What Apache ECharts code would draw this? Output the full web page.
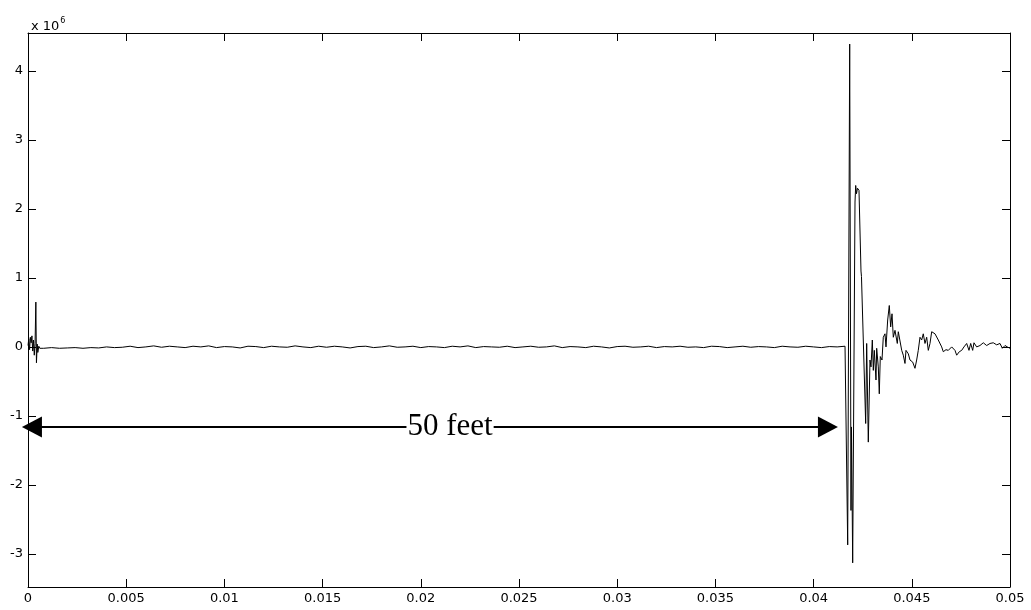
<!DOCTYPE html>
<html>
<head>
<meta charset="utf-8">
<title>waveform</title>
<script src="https://cdn.jsdelivr.net/npm/echarts@6/dist/echarts.min.js"></script>
<style>
html, body {margin: 0; padding: 0; background: #fff;}
#chartBox {width: 1031px; height: 610px;}
</style>
</head>
<body>
<div id="chartBox"></div>
<script>
// time in seconds, amplitude in units of 1e6
const onsetTime = [0, 0.00004, 0.00008, 0.00012, 0.00016, 0.0002, 0.00024, 0.00028, 0.00032, 0.00036, 0.0004, 0.00043, 0.00047, 0.0005, 0.00055, 0.0006];
const onsetValue = [0.02, 0.12, -0.04, 0.14, 0.06, 0.16, -0.06, 0.1, -0.12, 0.05, 0.65, -0.23, 0.04, -0.08, 0.01, -0.02];

// quiet stretch, sampled every quietStep from quietStart
const quietStart = 0.0008;
const quietStep = 0.0004;
const quietValue = [
    -0.02, -0.01, -0.02, -0.015, -0.01, -0.02, -0.01, -0.015, 0.0, -0.01,
    -0.005, 0.01, -0.01, 0.0, 0.015, -0.005, 0.01, 0.0, -0.01, 0.01,
    0.0, 0.015, -0.01, 0.005, 0.0, -0.015, 0.01, 0.005, -0.01, 0.01,
    0.0, -0.005, 0.015, 0.0, -0.01, 0.01, -0.005, 0.01, 0.0, -0.015,
    0.005, 0.01, -0.01, 0.0, 0.015, -0.005, 0.0, 0.01, -0.01, 0.005,
    0.0, -0.01, 0.01, 0.0, 0.015, -0.01, 0.005, 0.0, -0.005, 0.01,
    -0.01, 0.0, 0.01, -0.005, 0.0, 0.015, -0.01, 0.005, 0.0, -0.01,
    0.01, 0.0, -0.015, 0.005, 0.01, -0.005, 0.0, 0.01, -0.01, 0.005,
    0.0, 0.01, -0.005, 0.0, -0.01, 0.01, 0.005, -0.01, 0.0, 0.01,
    -0.005, 0.005, 0.0, -0.01, 0.01, 0.0, -0.005, 0.01, 0.0, -0.01,
    0.005, 0.0, 0.01
];

// reflection burst and ringing tail
const burstTime = [
    0.041685, 0.041736, 0.041838, 0.041904, 0.041929, 0.04199, 0.042108, 0.042143, 0.042184, 0.042235,
    0.042311, 0.042413, 0.042438, 0.042652, 0.042703, 0.042785, 0.042871, 0.042922, 0.04299, 0.043041,
    0.043092, 0.043177, 0.043212, 0.043294, 0.043345, 0.043396, 0.043482, 0.043548, 0.043635, 0.043686,
    0.043772, 0.043854, 0.043925, 0.043992, 0.044058, 0.044144, 0.044262, 0.044313, 0.044399, 0.044486,
    0.044567, 0.044653, 0.044704, 0.044822, 0.044908, 0.045045, 0.045162, 0.045248, 0.04533, 0.045417,
    0.045503, 0.045584, 0.045672, 0.045758, 0.04584, 0.045926, 0.046013, 0.046094, 0.046181, 0.046349,
    0.046521, 0.046603, 0.046741, 0.046858, 0.047031, 0.047199, 0.047285, 0.047418, 0.04754, 0.047657,
    0.047794, 0.047912, 0.047998, 0.0481, 0.048166, 0.048303, 0.048472, 0.04864, 0.048812, 0.048981,
    0.049148, 0.049322, 0.049491, 0.049608, 0.049746, 0.049863, 0.05
];
const burstValue = [
    0.01, -2.87, 4.39, -2.37, -1.16, -3.13, 2.10, 2.34, 2.22, 2.30,
    2.27, 1.10, 1.02, -1.11, 0.05, -1.38, -0.19, -0.29, 0.10, -0.34,
    -0.05, -0.48, -0.02, -0.29, -0.68, -0.14, -0.19, 0.14, 0.19, 0.00,
    0.39, 0.60, 0.29, 0.48, 0.14, 0.24, 0.05, 0.22, 0.24, -0.05,
    -0.12, -0.24, -0.05, -0.10, -0.19, -0.22, -0.31, -0.19, -0.05, 0.14,
    0.10, 0.19, 0.05, 0.14, -0.05, 0.05, 0.22, 0.24, 0.19, 0.10,
    0.00, -0.07, -0.04, -0.05, 0.00, -0.05, -0.12, -0.07, -0.05, 0.00,
    0.05, -0.05, 0.05, -0.05, 0.06, 0.00, 0.02, 0.06, 0.02, 0.05,
    0.06, 0.03, 0.05, -0.02, 0.02, 0.00, -0.02
];

const yTicks = [-3, -2, -1, 0, 1, 2, 3, 4];
const arrowSpan = [0.0002, 0.04073];
const arrowLevel = -1.16;
const arrowTextAt = 0.02149;
const arrowText = '50 feet';

let signal = [];
onsetTime.forEach(function (t, i) { signal.push([t, onsetValue[i]]); });
quietValue.forEach(function (v, i) { signal.push([+(quietStart + i * quietStep).toFixed(6), v]); });
burstTime.forEach(function (t, i) { signal.push([t, burstValue[i]]); });

const tickFont = 'DejaVu Sans';
let axisLine = {show: true, onZero: false, lineStyle: {color: '#000', width: 1}};
let axisTick = {show: true, inside: true, length: 8, lineStyle: {color: '#000', width: 1}};

let chartBox = echarts.init(document.getElementById('chartBox'), null, {renderer: 'canvas'});
let option = {
    animation: false,
    backgroundColor: '#fff',
    title: {
        text: '{a|x 10}{b|6}',
        left: 26, top: 12,
        textStyle: {
            fontWeight: 'normal',
            rich: {
                a: {fontSize: 13, fontFamily: tickFont, fontWeight: 'normal', color: '#000', lineHeight: 16, verticalAlign: 'bottom'},
                b: {fontSize: 8, fontFamily: tickFont, fontWeight: 'normal', color: '#000', lineHeight: 16, verticalAlign: 'top', padding: [0, 0, 0, 1]}
            }
        }
    },
    grid: {left: 28, right: 21, top: 33, bottom: 23},
    xAxis: [{
        type: 'value', min: 0, max: 0.05, interval: 0.005, position: 'bottom',
        axisLine: axisLine, axisTick: axisTick,
        axisLabel: {color: '#000', fontSize: 13, fontFamily: tickFont, margin: 5},
        splitLine: {show: false}
    }, {
        type: 'value', min: 0, max: 0.05, interval: 0.005, position: 'top',
        axisLine: axisLine, axisTick: axisTick,
        axisLabel: {show: false},
        splitLine: {show: false}
    }],
    yAxis: [{
        type: 'value', min: -3.48, max: 4.55, position: 'left',
        axisLine: axisLine,
        axisTick: Object.assign({customValues: yTicks}, axisTick),
        axisLabel: {customValues: yTicks, color: '#000', fontSize: 13, fontFamily: tickFont, margin: 5},
        splitLine: {show: false}
    }, {
        type: 'value', min: -3.48, max: 4.55, position: 'right',
        axisLine: axisLine,
        axisTick: Object.assign({customValues: yTicks}, axisTick),
        axisLabel: {show: false},
        splitLine: {show: false}
    }],
    series: [{
        type: 'line',
        xAxisIndex: 0, yAxisIndex: 0,
        data: signal,
        showSymbol: false,
        symbol: 'none',
        sampling: null,
        lineStyle: {color: '#000', width: 1},
        emphasis: {disabled: true},
        markLine: {
            silent: true,
            symbol: ['triangle', 'triangle'],
            symbolSize: [21, 20],
            lineStyle: {color: '#000', width: 2, type: 'solid'},
            itemStyle: {color: '#000'},
            label: {show: false},
            emphasis: {disabled: true},
            data: [[{coord: [arrowSpan[0], arrowLevel]}, {coord: [arrowSpan[1], arrowLevel]}]]
        },
        markPoint: {
            silent: true,
            z: 10,
            symbol: 'rect',
            symbolSize: 1,
            itemStyle: {color: 'rgba(0,0,0,0)'},
            label: {
                show: true, position: 'inside', formatter: arrowText,
                color: '#000', fontFamily: 'Liberation Serif', fontSize: 31,
                backgroundColor: '#fff', padding: [0, 1]
            },
            data: [{coord: [arrowTextAt, arrowLevel]}]
        }
    }]
};
chartBox.setOption(option, true);
</script>
</body>
</html>
